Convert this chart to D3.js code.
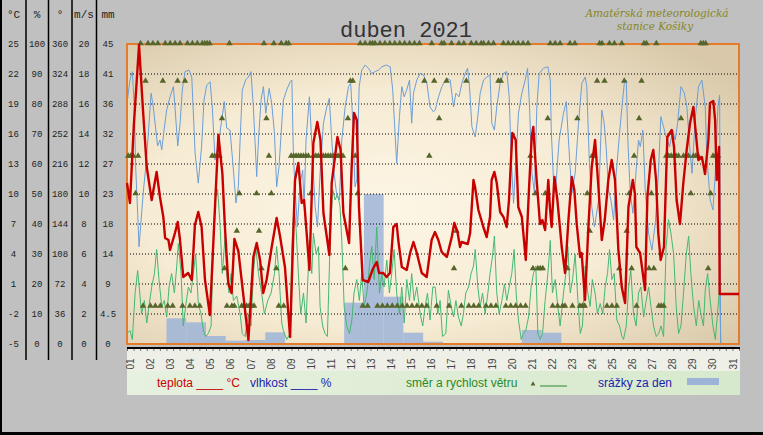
<!DOCTYPE html>
<html>
<head>
<meta charset="utf-8">
<script src="https://cdn.jsdelivr.net/npm/d3@7"></script>
<style>
body{margin:0;background:#c0c0c0;}
svg{display:block;}
</style>
</head>
<body>
<div id="chart"></div>
<script>
// labels
var dayLabels = ["01","02","03","04","05","06","07","08","09","10","11","12","13","14","15","16",
    "17","18","19","20","21","22","23","24","25","26","27","28","29","30","31"];
var tempTicks = [25,22,19,16,13,10,7,4,1,-2,-5];
var humTicks = [100,90,80,70,60,50,40,30,20,10,0];
var dirTicks = [360,324,288,252,216,180,144,108,72,36,0];
var speedTicks = [20,18,16,14,12,10,8,6,4,2,0];
var rainTicks = [45,40.5,36,31.5,27,22.5,18,13.5,9,4.5,0];
var rainTickLabels = ["45","41","36","32","27","23","18","14","9","4.5","0"];

// srazky za den (mm), 1.-30. dubna
var rainfall = [0,0,3.85,3.25,1.2,0.5,0.6,1.75,0,0,0,6.2,22.5,7.1,1.7,0.35,0,0,0,0,2.1,1.7,0,0,0,0,0,0,0,0];

// teplota [den, degC]
var temperature = [[0,11.1],[0.15,9.1],[0.35,17],[0.61,24.9],[0.8,18.7],[1.0,12.7],[1.25,9.4],[1.5,12.2],[1.67,9.7],
    [1.84,7.7],[1.93,5.6],[2.1,5.4],[2.18,4.4],[2.43,6.1],[2.57,7.2],[2.68,5.5],[2.85,1.7],[3.1,2.1],[3.28,1.4],
    [3.44,6.9],[3.61,8.2],[3.78,6.7],[3.95,1.4],[4.2,-2.1],[4.63,15.9],[4.83,12.1],[4.96,6.7],[5.13,1.1],[5.3,0.1],
    [5.44,5.5],[5.64,4.3],[6.15,-4.6],[6.4,3.7],[6.57,5.1],[6.74,3.4],[6.9,0.1],[7.07,1.4],[7.33,4.7],[7.58,7.6],
    [7.75,5.8],[8.0,2.7],[8.26,-4.3],[8.51,11.4],[8.68,13.1],[8.85,9.1],[8.97,9.4],[9.1,6.1],[9.24,2.4],[9.44,15.1],
    [9.64,17.2],[9.8,15.4],[9.95,8.1],[10.25,3.9],[10.37,11.1],[10.66,15.7],[10.82,14.4],[10.96,8.1],[11.25,5.1],
    [11.38,12.7],[11.5,18.1],[11.64,17.4],[11.75,8.7],[11.94,1.4],[12.22,1.2],[12.45,2.5],[12.65,3.2],[12.77,2.1],
    [12.98,2.1],[13.15,1.7],[13.32,2.1],[13.49,6.7],[13.66,7.0],[13.74,5.4],[13.92,2.7],[14.17,2.4],[14.34,4.1],
    [14.51,5.2],[14.68,4.1],[14.93,2.1],[15.18,1.7],[15.43,5.4],[15.6,6.2],[15.77,5.4],[15.94,4.2],[16.2,3.7],
    [16.45,5.7],[16.58,7.1],[16.74,6.2],[16.87,4.7],[16.95,5.2],[17.26,5.0],[17.38,6.1],[17.55,11.4],[17.63,10.7],
    [17.8,8.4],[18.05,6.7],[18.22,5.7],[18.39,7.7],[18.47,11.4],[18.61,12.2],[18.73,11.1],[18.9,8.2],[19.07,7.7],
    [19.23,6.7],[19.35,9.4],[19.52,16.1],[19.69,15.4],[19.82,8.7],[20.0,7.7],[20.2,3.4],[20.36,10.4],[20.5,15.7],
    [20.58,16.7],[20.75,11.4],[20.92,7.0],[21.04,7.4],[21.18,6.4],[21.34,11.4],[21.42,8.7],[21.51,6.7],[21.65,11.7],
    [21.8,9.4],[22.02,4.7],[22.19,2.1],[22.36,7.4],[22.53,11.7],[22.66,10.4],[22.78,7.0],[22.95,3.7],[23.03,4.1],
    [23.2,-0.6],[23.37,6.7],[23.54,12.7],[23.71,15.4],[23.88,10.7],[24.05,5.4],[24.2,7.4],[24.38,11.4],[24.55,13.4],
    [24.72,11.4],[24.89,4.4],[25.06,0.7],[25.23,-0.9],[25.4,8.7],[25.62,11.4],[25.73,10.0],[25.8,4.7],[25.99,4.1],
    [26.24,0.4],[26.36,9.7],[26.53,13.4],[26.66,14.4],[26.8,11.4],[26.91,6.1],[27.03,3.4],[27.2,4.7],[27.37,15.7],
    [27.59,16.4],[27.71,14.7],[27.84,9.4],[28.01,7.0],[28.18,11.1],[28.35,14.4],[28.52,17.1],[28.69,18.7],
    [28.86,15.1],[28.94,13.4],[29.12,13.7],[29.28,12.0],[29.45,15.4],[29.53,19.1],[29.7,19.3],[29.79,17.4],
    [29.87,11.4],[29.99,14.7],[30.02,0]];

// vlhkost [den, %]
var humidity = [[0,80.2],[0.15,88],[0.27,90.8],[0.37,79],[0.44,59],[0.54,43.6],[0.61,32.4],[0.71,41],[0.83,51],
    [0.95,59],[1.08,70],[1.22,83.6],[1.33,79],[1.45,72],[1.55,66],[1.67,68],[1.76,64.7],[1.89,72],[2.01,78],
    [2.18,82.4],[2.35,85.8],[2.43,79],[2.57,66],[2.69,73.6],[2.8,84.7],[2.94,90.8],[3.14,91.3],[3.28,89],
    [3.45,63.6],[3.61,53.6],[3.78,66],[3.9,81.3],[4.04,86.3],[4.21,87.4],[4.32,79],[4.46,61.3],[4.63,66.9],
    [4.8,74.7],[4.93,80.8],[5.05,72],[5.22,71.3],[5.39,58],[5.52,47],[5.64,52.4],[5.73,68],[5.84,84.7],[6.01,88],
    [6.15,89],[6.28,90.8],[6.4,79],[6.49,66.9],[6.57,55.8],[6.66,68],[6.79,81.3],[6.91,85.8],[7.03,76.9],[7.2,85.2],
    [7.33,80.2],[7.47,70.2],[7.58,52.4],[7.7,59],[7.84,73.6],[7.92,81.3],[8.09,84.7],[8.26,87.4],[8.35,88],
    [8.43,62.4],[8.51,52.4],[8.63,39],[8.77,53.6],[8.9,58],[8.97,45.8],[9.07,68],[9.24,82.4],[9.36,66.9],[9.53,45.8],
    [9.65,39],[9.78,56.9],[9.95,73.6],[10.12,79],[10.25,81.9],[10.37,68],[10.49,56.9],[10.63,49.3],[10.76,48],
    [10.88,68],[11.05,79],[11.22,85.8],[11.33,86.9],[11.44,73.6],[11.55,52.4],[11.64,54.7],[11.76,85.8],[11.89,91.3],
    [12.06,93],[12.23,91.9],[12.4,90.2],[12.57,90.8],[12.74,91.3],[12.91,92.4],[13.13,93],[13.33,92.4],[13.46,84.7],
    [13.55,73.6],[13.66,60.2],[13.8,75.8],[13.92,85.8],[14.04,82.4],[14.17,84.7],[14.31,88],[14.42,73.6],[14.51,83.6],
    [14.68,88],[14.85,90.2],[15.02,89.7],[15.19,86.9],[15.35,79],[15.52,77.4],[15.61,78],[15.78,82.4],[15.95,85.8],
    [16.2,88.6],[16.37,88],[16.54,79],[16.66,83.6],[16.82,82.4],[16.96,86.9],[17.13,90.2],[17.25,91.9],[17.35,85.8],
    [17.47,72.4],[17.64,69],[17.77,75.8],[17.89,83.6],[18.06,88],[18.23,89],[18.39,89.7],[18.48,73.6],[18.61,71.3],
    [18.73,79],[18.9,86.9],[19.07,90.2],[19.24,90.8],[19.36,82.4],[19.46,62.4],[19.58,46.9],[19.71,62.4],[19.83,76.9],
    [20.0,83.6],[20.17,88],[20.29,91.9],[20.39,79],[20.51,56.9],[20.64,50.2],[20.76,79],[20.88,90.2],[21.1,91.9],
    [21.32,92.4],[21.44,88],[21.49,71.3],[21.61,53.6],[21.72,52.4],[21.89,68],[22.11,76.9],[22.25,80.8],[22.36,68],
    [22.53,50.2],[22.7,56.9],[22.87,73.6],[23.04,86.9],[23.21,89],[23.29,85.8],[23.41,62.4],[23.54,45.8],[23.68,39],
    [23.89,48],[24.05,78],[24.17,73.6],[24.27,65.8],[24.39,51.3],[24.51,48],[24.65,41.3],[24.78,56.9],[24.95,70.2],
    [25.07,79],[25.19,86.9],[25.29,88],[25.37,68],[25.49,50.2],[25.63,43.6],[25.79,58],[25.91,68],[26.0,65.8],
    [26.13,71.3],[26.25,51.3],[26.42,36.9],[26.59,31.3],[26.76,40.2],[26.92,56.9],[27.04,75.8],[27.18,72.4],
    [27.31,69],[27.48,65.8],[27.65,71.3],[27.77,68],[27.89,73.6],[28.06,85.8],[28.23,83.6],[28.36,79],[28.5,65.8],
    [28.62,56.9],[28.79,75.8],[28.95,85.8],[29.12,88],[29.29,79],[29.37,62.4],[29.54,48],[29.68,44.7],[29.8,56.9],
    [29.93,79],[30.02,83],[30.07,0]];

// rychlost vetru [den, m/s]
var windSpeed = [[0,0.7],[0.15,0.9],[0.27,0.3],[0.41,3.4],[0.54,4.9],[0.66,3.2],[0.74,2],[0.88,2.9],[1.0,1.4],
    [1.11,2.5],[1.25,3.8],[1.39,4.7],[1.5,6.3],[1.62,4.3],[1.76,2.5],[1.89,2.9],[2.01,1.8],[2.13,3.8],[2.26,4.7],
    [2.4,3.4],[2.52,5.2],[2.6,6.7],[2.74,4.7],[2.85,1.2],[2.97,2.5],[3.11,3.8],[3.24,3.4],[3.36,4.7],[3.48,6.0],
    [3.61,2.7],[3.75,2.0],[3.87,0.9],[3.99,0.5],[4.12,0.7],[4.26,1.2],[4.38,6.9],[4.46,9.6],[4.59,10.3],[4.71,8.0],
    [4.83,4.7],[4.97,7.2],[5.05,4.7],[5.17,3.4],[5.27,4.7],[5.39,2.9],[5.56,3.2],[5.73,2],[5.84,0.7],[5.98,0.5],
    [6.15,2],[6.28,1.2],[6.4,4.7],[6.52,6.5],[6.66,4.7],[6.82,3.4],[6.96,2],[7.13,2.9],[7.3,3.4],[7.47,4.7],
    [7.58,6.5],[7.7,4.7],[7.84,1.4],[7.92,0.9],[8.09,0.3],[8.26,0.7],[8.35,6.5],[8.46,9.2],[8.56,7.8],[8.68,4.7],
    [8.8,2],[8.94,3.4],[9.07,1.4],[9.24,6.9],[9.36,4.7],[9.44,7.4],[9.58,6],[9.7,6.5],[9.78,2.5],[9.91,1.2],
    [10.03,0.7],[10.15,0.5],[10.29,6.9],[10.42,10.3],[10.54,9.6],[10.66,10],[10.79,9.2],[10.88,6.9],[11.0,2.5],
    [11.13,1.2],[11.27,0.7],[11.39,1.6],[11.5,3.4],[11.64,4.3],[11.77,2.9],[11.89,4.7],[12.01,2.5],[12.15,3.4],
    [12.28,5.2],[12.4,6.5],[12.52,4.3],[12.65,7.8],[12.79,3.4],[12.91,4.7],[13.02,3.8],[13.16,5.6],[13.29,3.4],
    [13.41,4.7],[13.53,6.3],[13.66,3.4],[13.8,2],[13.92,3.8],[14.04,1.4],[14.17,4.3],[14.31,2.9],[14.42,4.7],
    [14.54,2.9],[14.68,3.8],[14.85,2],[14.98,1.2],[15.1,2.5],[15.22,3.4],[15.35,1.6],[15.49,3.8],[15.61,3.8],
    [15.74,2],[15.86,2.9],[15.98,0.5],[16.15,0.7],[16.28,3.6],[16.42,2.5],[16.54,1.8],[16.66,2.9],[16.79,1.8],
    [16.93,1.2],[17.04,2],[17.16,3.4],[17.3,3.8],[17.43,4.7],[17.55,5.2],[17.64,6.3],[17.77,3.8],[17.89,2.5],
    [18.01,3.4],[18.14,2],[18.28,3.4],[18.39,4.7],[18.51,5.8],[18.61,7.2],[18.73,3.4],[18.85,2],[18.99,2.9],
    [19.12,4],[19.24,2.9],[19.36,3.8],[19.49,4.7],[19.61,6.3],[19.71,3.4],[19.83,1.6],[19.97,0.3],[20.08,0.7],
    [20.2,0.9],[20.34,1.8],[20.47,3.8],[20.59,4.7],[20.71,5.2],[20.81,0.7],[20.93,0.3],[21.05,0.7],[21.18,2.9],
    [21.32,4.7],[21.44,6.9],[21.55,3.4],[21.69,4.3],[21.82,2.5],[21.94,1.2],[22.11,3.4],[22.23,4.7],[22.33,6.5],
    [22.45,3.4],[22.57,4.3],[22.7,6],[22.84,2.9],[22.96,0.7],[23.07,1.2],[23.21,5.2],[23.34,3.4],[23.46,2.5],
    [23.57,4.3],[23.71,3.4],[23.83,2],[23.97,2.7],[24.1,2],[24.22,3.8],[24.34,4.7],[24.44,6.3],[24.56,4.3],
    [24.68,4.7],[24.81,1.6],[24.95,1.2],[25.07,0.5],[25.15,0.3],[25.29,1.2],[25.41,3.8],[25.52,4.9],[25.66,2],
    [25.79,1.2],[25.91,3.4],[26.03,3.8],[26.17,1.8],[26.3,2.9],[26.42,3.8],[26.54,2.5],[26.67,1.2],[26.81,0.5],
    [26.93,0.7],[27.05,1.2],[27.18,0.5],[27.31,6.5],[27.43,8.3],[27.55,7.4],[27.69,6],[27.82,2.5],[27.94,0.7],
    [28.06,1.2],[28.19,3.4],[28.33,6],[28.45,7.2],[28.56,4.7],[28.7,2.5],[28.84,1.2],[28.96,2.9],[29.07,2],
    [29.2,1.2],[29.29,3.6],[29.41,4.7],[29.54,2.9],[29.68,1.2],[29.8,0.3],[29.91,2],[30.02,3.8],[30.08,0]];

// smer vetru po 3 hodinach (stupne)
var windDir = [
    225,225,225,180,225,360,45,315,
    360,45,360,45,360,45,315,360,
    45,360,45,360,315,360,45,315,
    360,45,360,45,360,45,360,360,
    360,360,225,225,225,225,270,90,
    45,360,45,45,135,180,45,45,
    45,45,45,45,180,135,90,360,
    270,225,180,360,90,45,360,45,
    360,360,225,225,225,225,225,225,
    225,225,180,225,225,225,225,225,
    225,225,225,225,225,225,225,225,
    90,270,315,315,225,180,360,45,
    360,45,360,360,360,45,360,45,
    360,45,360,45,360,45,360,45,
    360,45,360,45,360,45,360,45,
    315,45,225,360,315,45,270,360,
    360,315,45,360,90,135,360,45,
    360,315,45,360,45,360,45,360,
    360,45,360,45,360,45,315,315,
    360,45,360,45,360,45,360,45,
    360,45,360,225,90,180,90,90,
    90,180,270,360,45,360,45,360,
    45,45,90,360,45,360,270,45,
    45,45,180,135,225,225,315,360,
    360,315,45,360,45,360,45,90,
    360,315,135,180,90,225,45,270,
    315,360,360,90,180,90,360,45,
    45,45,225,225,225,225,225,225,
    270,225,225,225,180,225,225,225,
    360,360,360,90,180,225,225,225];

function drawChart(){
    var W = 763, H = 435;
    var left = 127, right = 739, top = 44, bottom = 344;

    var svg = d3.select("#chart").append("svg")
        .attr("width", W)
        .attr("height", H);

    // background + black frame on left and bottom
    svg.append("rect").attr("width", W).attr("height", H).attr("fill", "#c0c0c0");
    svg.append("rect").attr("x", 0).attr("y", 0).attr("width", 2).attr("height", H).attr("fill", "#000");
    svg.append("rect").attr("x", 0).attr("y", 432).attr("width", W).attr("height", 3).attr("fill", "#000");

    var defs = svg.append("defs");
    var rg = defs.append("radialGradient").attr("id", "plotBg")
        .attr("cx", "42%").attr("cy", "55%").attr("r", "72%");
    rg.append("stop").attr("offset", "0%").attr("stop-color", "#fdf6e6");
    rg.append("stop").attr("offset", "55%").attr("stop-color", "#f6ebd3");
    rg.append("stop").attr("offset", "100%").attr("stop-color", "#d9c9aa");
    var lg = defs.append("linearGradient").attr("id", "legBg")
        .attr("x1", "0%").attr("x2", "100%").attr("y1", "0%").attr("y2", "0%");
    lg.append("stop").attr("offset", "0%").attr("stop-color", "#e6f1df");
    lg.append("stop").attr("offset", "100%").attr("stop-color", "#d7e9cd");

    // scales
    var x = d3.scaleLinear().domain([0, 31]).range([left, right]);
    var yT = d3.scaleLinear().domain([-5, 25]).range([bottom, top]);
    var yH = d3.scaleLinear().domain([0, 100]).range([bottom, top]);
    var yD = d3.scaleLinear().domain([0, 360]).range([bottom, top]);
    var yS = d3.scaleLinear().domain([0, 20]).range([bottom, top]);
    var yP = d3.scaleLinear().domain([0, 45]).range([bottom, top]);
    var xLab = d3.scalePoint().domain(dayLabels).range([130.5, 733]);

    // left value columns
    var cols = [
        {cx: 13.5, head: "°C", scale: yT, ticks: tempTicks, fmt: function(d){ return d; }},
        {cx: 37, head: "%", scale: yH, ticks: humTicks, fmt: function(d){ return d; }},
        {cx: 60, head: "°", scale: yD, ticks: dirTicks, fmt: function(d){ return d; }},
        {cx: 84, head: "m/s", scale: yS, ticks: speedTicks, fmt: function(d){ return d; }},
        {cx: 108, head: "mm", scale: yP, ticks: rainTicks, fmt: function(d, i){ return rainTickLabels[i]; }}
    ];
    cols.forEach(function(c){
        var g = svg.append("g").attr("transform", "translate(" + c.cx + ",0)")
            .call(d3.axisLeft(c.scale).tickValues(c.ticks).tickSize(0).tickPadding(0).tickFormat(c.fmt));
        g.select(".domain").remove();
        g.attr("font-family", "'Liberation Mono', monospace").attr("font-size", 9);
        g.selectAll("text").attr("text-anchor", "middle").attr("fill", "#222");
        svg.append("text").attr("x", c.cx).attr("y", 18)
            .attr("text-anchor", "middle")
            .attr("font-family", "'Liberation Mono', monospace").attr("font-size", 11)
            .attr("fill", "#222").text(c.head);
    });
    [26, 48.5, 72, 96.5].forEach(function(sx){
        svg.append("line").attr("x1", sx).attr("x2", sx).attr("y1", 0).attr("y2", 360)
            .attr("stroke", "#000").attr("stroke-width", 1.5);
    });

    // title + station
    svg.append("text").attr("x", 406).attr("y", 37).attr("text-anchor", "middle")
        .attr("font-family", "'Liberation Mono', monospace").attr("font-size", 22)
        .attr("fill", "#333").text("duben 2021");
    svg.append("text").attr("x", 657).attr("y", 17).attr("text-anchor", "middle")
        .attr("font-family", "'DejaVu Serif', serif").attr("font-style", "italic").attr("font-size", 10.5)
        .attr("fill", "#86861e").text("Amatérská meteorologická");
    svg.append("text").attr("x", 655).attr("y", 30).attr("text-anchor", "middle")
        .attr("font-family", "'DejaVu Serif', serif").attr("font-style", "italic").attr("font-size", 10.5)
        .attr("fill", "#86861e").text("stanice Košiky");

    // plot background
    svg.append("rect").attr("x", left).attr("y", top).attr("width", right - left).attr("height", bottom - top)
        .attr("fill", "url(#plotBg)");

    // rain bars (one per day)
    svg.append("g").selectAll("rect")
        .data(rainfall.map(function(v, i){ return {day: i, mm: v}; }).filter(function(d){ return d.mm > 0; }))
        .enter().append("rect")
        .attr("x", function(d){ return x(d.day); })
        .attr("width", function(d){ return x(d.day + 1) - x(d.day); })
        .attr("y", function(d){ return yP(d.mm); })
        .attr("height", function(d){ return bottom - yP(d.mm); })
        .attr("fill", "#9db4d8").attr("opacity", 0.85);

    // dotted grid
    svg.append("g").selectAll("line").data(tempTicks.slice(1, -1)).enter().append("line")
        .attr("x1", left).attr("x2", right)
        .attr("y1", function(d){ return yT(d); }).attr("y2", function(d){ return yT(d); })
        .attr("stroke", "#000").attr("stroke-width", 1).attr("stroke-dasharray", "1,2");

    // lines
    function lineOf(scale){
        return d3.line().x(function(d){ return x(d[0]); }).y(function(d){ return scale(d[1]); });
    }
    function withTail(arr){
        // hold the last value to the end of the axis
        return arr.concat([[31, arr[arr.length - 1][1]]]);
    }
    svg.append("path").datum(withTail(windSpeed)).attr("d", lineOf(yS))
        .attr("fill", "none").attr("stroke", "#45b873").attr("stroke-width", 1);
    svg.append("path").datum(withTail(humidity)).attr("d", lineOf(yH))
        .attr("fill", "none").attr("stroke", "#6c9ed8").attr("stroke-width", 1);

    // frame
    svg.append("rect").attr("x", left).attr("y", top).attr("width", right - left).attr("height", bottom - top)
        .attr("fill", "none").attr("stroke", "#e47c2c").attr("stroke-width", 2);

    // wind direction triangles
    var tri = d3.symbol().type(d3.symbolTriangle).size(18);
    svg.append("g").selectAll("path").data(windDir).enter().append("path")
        .attr("d", tri)
        .attr("transform", function(d, i){ return "translate(" + x(i / 8 + 1 / 16) + "," + (yD(d) - 0.5) + ")"; })
        .attr("fill", "#56652a");

    svg.append("path").datum(withTail(temperature)).attr("d", lineOf(yT))
        .attr("fill", "none").attr("stroke", "#c80000").attr("stroke-width", 2.4)
        .attr("stroke-linejoin", "round");

    // day strip
    svg.append("rect").attr("x", left).attr("y", 349).attr("width", right - left + 1).attr("height", 22)
        .attr("fill", "#eef0e7");
    svg.append("line").attr("x1", left).attr("x2", right + 1).attr("y1", 348).attr("y2", 348)
        .attr("stroke", "#000").attr("stroke-width", 2);
    var tickAxis = svg.append("g").attr("transform", "translate(0,349)")
        .call(d3.axisBottom(x).tickValues(d3.range(0, 31.01, 1 / 3)).tickSize(2).tickFormat(""));
    tickAxis.select(".domain").remove();
    tickAxis.selectAll("line").attr("stroke", "#777");

    svg.append("g").selectAll("text").data(dayLabels).enter().append("text")
        .attr("transform", function(d){ return "translate(" + (xLab(d) + 3.5) + ",364) rotate(-90)"; })
        .attr("text-anchor", "middle")
        .attr("font-family", "'Liberation Sans', Arial, sans-serif").attr("font-size", 10)
        .attr("fill", "#444").text(function(d){ return d; });

    // legend strip
    svg.append("rect").attr("x", left).attr("y", 371).attr("width", right - left + 1).attr("height", 24)
        .attr("fill", "url(#legBg)");
    var lf = "'Liberation Sans', Arial, sans-serif";
    svg.append("text").attr("x", 157).attr("y", 387).attr("font-family", lf).attr("font-size", 12)
        .attr("fill", "#cc0000").text("teplota ____ °C");
    svg.append("text").attr("x", 250).attr("y", 387).attr("font-family", lf).attr("font-size", 12)
        .attr("fill", "#1c1cb0").text("vlhkost ____ %");
    svg.append("text").attr("x", 406).attr("y", 387).attr("font-family", lf).attr("font-size", 12)
        .attr("fill", "#2a8a2a").text("směr a rychlost větru");
    svg.append("path").attr("d", d3.symbol().type(d3.symbolTriangle).size(10))
        .attr("transform", "translate(533,384)").attr("fill", "#56652a");
    svg.append("line").attr("x1", 540).attr("x2", 567).attr("y1", 386).attr("y2", 386)
        .attr("stroke", "#2a8a2a").attr("stroke-width", 1);
    svg.append("text").attr("x", 598).attr("y", 387).attr("font-family", lf).attr("font-size", 12)
        .attr("fill", "#1c1cb0").text("srážky za den");
    svg.append("rect").attr("x", 687).attr("y", 378).attr("width", 32).attr("height", 7)
        .attr("fill", "#9db4d8");
}

drawChart();
</script>
</body>
</html>
